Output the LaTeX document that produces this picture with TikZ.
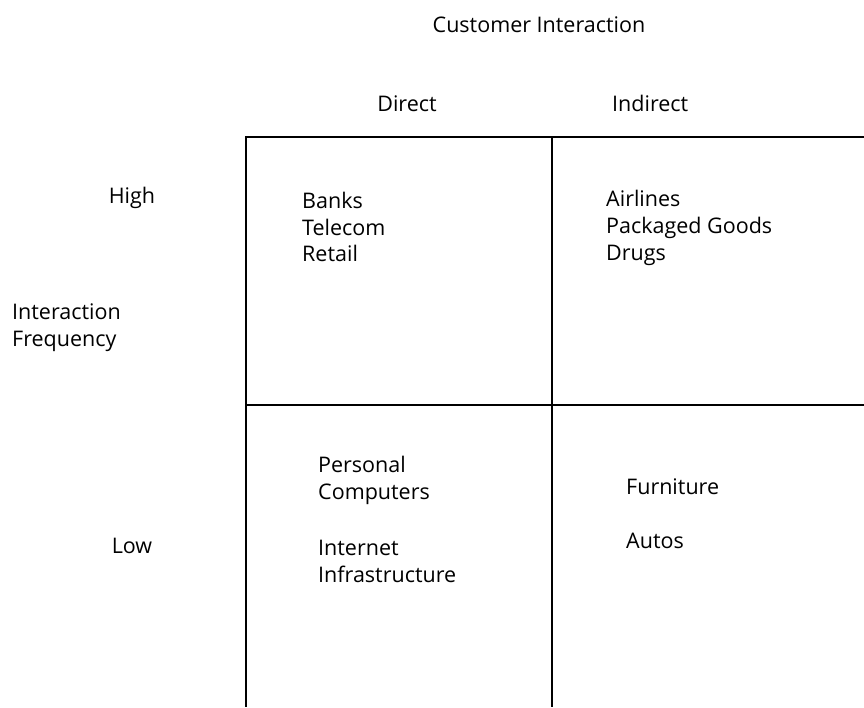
\documentclass[tikz,border=0pt]{standalone}
\usepackage{fontspec}
\setmainfont{Open Sans}
\begin{document}
\begin{tikzpicture}[x=1pt,y=-1pt,
  lbl/.style={font=\fontsize{21.5}{26.6}\selectfont, inner sep=0pt, align=left, anchor=west},
  grid/.style={line width=2pt, black}]
\useasboundingbox (0,0) rectangle (864,707);
% grid corners
\coordinate (tl) at (245.5,137);
\coordinate (tm) at (552,137);
\coordinate (tr) at (864,137);
\coordinate (ml) at (245.5,404.5);
\coordinate (mr) at (864,404.5);
\coordinate (bl) at (245.5,707);
\coordinate (bm) at (552,707);
\draw[grid] (tr) -- (tl) -- (bl);
\draw[grid] (tm) -- (bm);
\draw[grid] (ml) -- (mr);
% labels
\node[lbl, anchor=center] (title) at (539,25) {Customer Interaction};
\node[lbl, anchor=center] (direct) at (407,104) {Direct};
\node[lbl] (indirect) at (612,103) {Indirect};
\node[lbl, anchor=center] (high) at (132,198) {High};
\node[lbl, anchor=center] (low) at (132,546) {Low};
\node[lbl] (freq) at (12,327.5) {Interaction\\Frequency};
\node[lbl] (q1) at (302,227) {Banks\\Telecom\\Retail};
\node[lbl] (q2) at (606,228) {Airlines\\Packaged Goods\\Drugs};
\node[lbl] (q3a) at (318,480.5) {Personal\\Computers};
\node[lbl] (q3b) at (318,561.5) {Internet\\Infrastructure};
\node[lbl] (q4a) at (626,487) {Furniture};
\node[lbl] (q4b) at (626,541) {Autos};
\end{tikzpicture}
\end{document}
